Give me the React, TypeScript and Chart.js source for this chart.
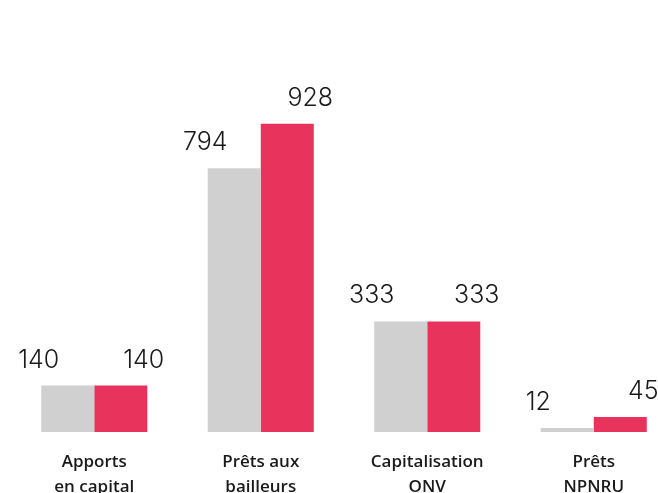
import React, { useEffect, useRef } from "react";
import { Chart, registerables } from "chart.js";

Chart.register(...registerables);

const categories: string[][] = [
  ["Apports", "en capital"],
  ["Prêts aux", "bailleurs"],
  ["Capitalisation", "ONV"],
  ["Prêts", "NPNRU"],
];
const seriesA: number[] = [140, 794, 333, 12];
const seriesB: number[] = [140, 928, 333, 45];
const colorA = "#d0d0d0";
const colorB = "#e8345c";

const labelPlugin = {
  id: "valueLabels",
  afterDatasetsDraw(chart: any) {
    const ctx = chart.ctx;
    ctx.save();
    ctx.font = "300 25px Inter, 'Noto Sans', sans-serif";
    ctx.fillStyle = "#1a1a1a";
    ctx.textAlign = "center";
    ctx.textBaseline = "bottom";
    chart.data.datasets.forEach((ds: any, di: number) => {
      const meta = chart.getDatasetMeta(di);
      const off = di === 0 ? -29 : 23;
      meta.data.forEach((bar: any, i: number) => {
        ctx.fillText(String(ds.data[i]), bar.x + off, bar.y - 13);
      });
    });
    ctx.restore();
  },
};

export default function App() {
  const ref = useRef<HTMLCanvasElement | null>(null);
  useEffect(() => {
    if (!ref.current) return;
    const chart = new Chart(ref.current, {
      type: "bar",
      data: {
        labels: categories,
        datasets: [
          { data: seriesA, backgroundColor: colorA, borderWidth: 0 },
          { data: seriesB, backgroundColor: colorB, borderWidth: 0 },
        ],
      },
      options: {
        animation: false,
        responsive: false,
        maintainAspectRatio: false,
        layout: { padding: { left: 11, right: 13, top: 0, bottom: 0 } },
        datasets: { bar: { barPercentage: 1, categoryPercentage: 0.637 } },
        plugins: { legend: { display: false }, tooltip: { enabled: false } },
        scales: {
          x: {
            grid: { display: false, drawTicks: false },
            border: { display: false },
            ticks: {
              color: "#1a1a1a",
              font: { family: "'Open Sans', 'Noto Sans', sans-serif", size: 17, weight: "600", lineHeight: "25px" },
              padding: 18,
              maxRotation: 0,
              autoSkip: false,
            },
            afterFit: (scale: any) => {
              scale.height = 61;
            },
          },
          y: {
            display: false,
            min: 0,
            max: 1301,
          },
        },
      },
      plugins: [labelPlugin],
    });
    return () => chart.destroy();
  }, []);
  return (
    <div style={{ position: "fixed", left: 0, top: 0, width: 658, height: 493, overflow: "hidden", background: "#fff" }}>
      <canvas ref={ref} width={690} height={493} style={{ display: "block", width: 690, height: 493 }} />
    </div>
  );
}
